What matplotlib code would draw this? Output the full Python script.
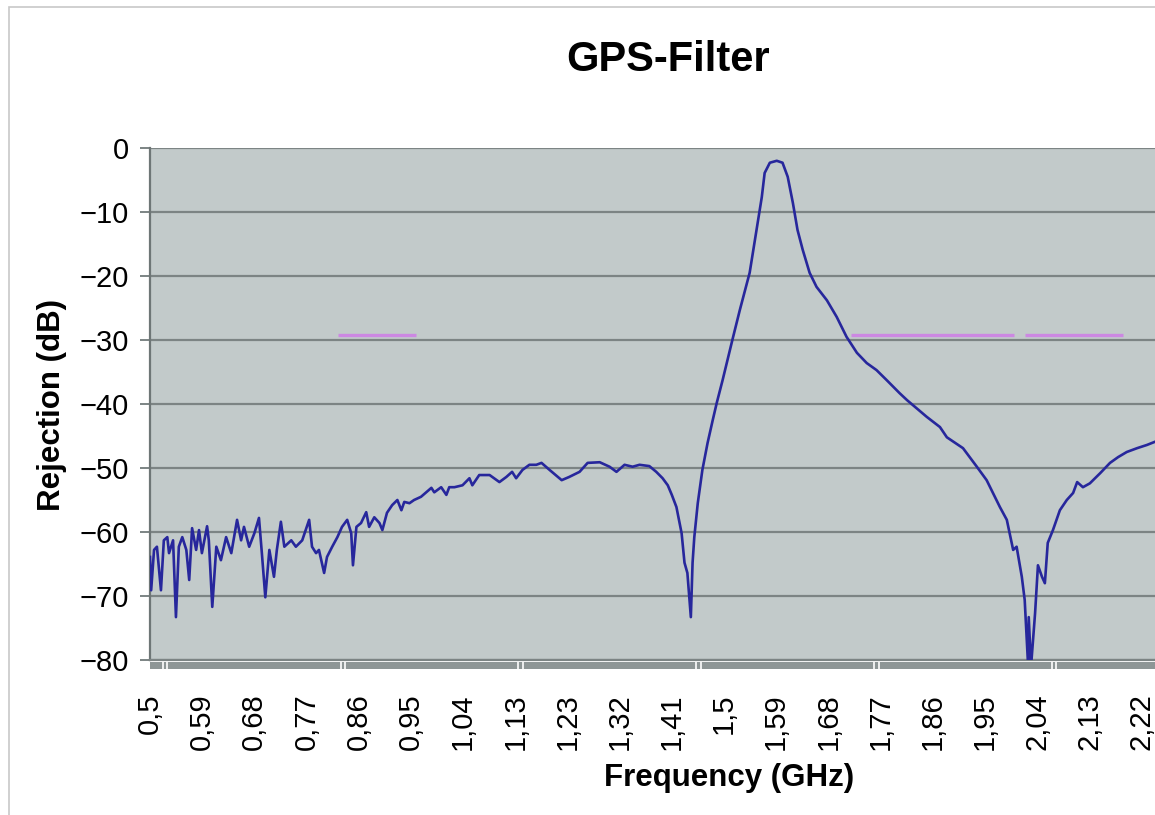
"""
GPS filter rejection sweep, redrawn in the old Excel chart look.
"""

import matplotlib

matplotlib.use("Agg")
import matplotlib.pyplot as plt
import numpy as np
from matplotlib.patches import Rectangle

FREQ_GHZ = [
    0.500, 0.502, 0.507, 0.512, 0.519, 0.524, 0.530, 0.533, 0.540, 0.545,
    0.550, 0.556, 0.563, 0.568, 0.573, 0.580, 0.585, 0.590, 0.599, 0.602,
    0.608, 0.615, 0.623, 0.632, 0.641, 0.651, 0.658, 0.663, 0.672, 0.681,
    0.689, 0.694, 0.700, 0.707, 0.715, 0.720, 0.727, 0.733, 0.745, 0.753,
    0.764, 0.776, 0.781, 0.788, 0.793, 0.802, 0.807, 0.816, 0.825, 0.833,
    0.842, 0.849, 0.852, 0.858, 0.866, 0.875, 0.880, 0.889, 0.898, 0.903,
    0.911, 0.920, 0.929, 0.936, 0.941, 0.950, 0.958, 0.970, 0.979, 0.988,
    0.993, 1.005, 1.014, 1.019, 1.028, 1.042, 1.054, 1.059, 1.071, 1.089,
    1.106, 1.118, 1.128, 1.135, 1.146, 1.158, 1.170, 1.179, 1.193, 1.214,
    1.227, 1.245, 1.259, 1.280, 1.297, 1.309, 1.323, 1.337, 1.349, 1.366,
    1.378, 1.389, 1.398, 1.405, 1.413, 1.422, 1.427, 1.432, 1.438, 1.441,
    1.444, 1.450, 1.458, 1.467, 1.476, 1.483, 1.493, 1.510, 1.523, 1.540,
    1.552, 1.561, 1.566, 1.575, 1.587, 1.597, 1.606, 1.615, 1.623, 1.632,
    1.644, 1.656, 1.674, 1.691, 1.708, 1.726, 1.743, 1.760, 1.778, 1.800,
    1.813, 1.847, 1.870, 1.882, 1.910, 1.934, 1.951, 1.962, 1.974, 1.986,
    1.991, 1.997, 2.003, 2.012, 2.017, 2.023, 2.024, 2.028, 2.035, 2.040,
    2.047, 2.052, 2.057, 2.066, 2.078, 2.090, 2.101, 2.108, 2.118, 2.130,
    2.148, 2.165, 2.179, 2.194, 2.212, 2.229, 2.243,
]
REJECTION_DB = [
    -63.9, -69.1, -62.8, -62.3, -69.1, -61.3, -60.8, -63.3, -61.3, -73.3,
    -62.3, -60.8, -62.8, -67.5, -59.4, -62.8, -59.7, -63.3, -59.1, -61.3,
    -71.7, -62.3, -64.4, -60.8, -63.3, -58.1, -61.3, -59.2, -62.3, -60.2,
    -57.8, -63.3, -70.2, -62.8, -67.0, -62.8, -58.4, -62.3, -61.3, -62.3,
    -61.3, -58.1, -62.3, -63.3, -62.8, -66.4, -63.9, -62.3, -60.8, -59.2,
    -58.1, -60.2, -65.2, -59.2, -58.6, -56.9, -59.2, -57.7, -58.6, -59.7,
    -57.0, -55.8, -55.0, -56.6, -55.3, -55.5, -55.0, -54.5, -53.8, -53.1,
    -53.8, -53.0, -54.2, -53.0, -53.0, -52.7, -51.6, -52.7, -51.1, -51.1,
    -52.2, -51.4, -50.6, -51.6, -50.3, -49.5, -49.5, -49.2, -50.3, -51.9,
    -51.4, -50.6, -49.2, -49.1, -49.8, -50.6, -49.5, -49.8, -49.5, -49.7,
    -50.6, -51.6, -52.7, -54.2, -56.1, -60.2, -64.8, -66.4, -73.3, -64.8,
    -60.8, -55.5, -50.3, -46.1, -42.5, -39.8, -36.3, -30.0, -25.3, -19.5,
    -12.8, -7.7, -3.9, -2.3, -2.0, -2.3, -4.5, -8.6, -12.8, -15.9,
    -19.5, -21.7, -23.8, -26.4, -29.5, -32.0, -33.6, -34.7, -36.3, -38.3,
    -39.4, -42.0, -43.6, -45.2, -46.9, -49.8, -51.9, -53.9, -56.1, -58.1,
    -60.2, -62.8, -62.3, -67.0, -70.6, -81.0, -73.3, -81.0, -72.7, -65.2,
    -67.0, -68.0, -61.7, -59.7, -56.6, -55.0, -53.9, -52.2, -53.0, -52.4,
    -50.8, -49.2, -48.3, -47.5, -46.9, -46.4, -45.9,
]

# rejection mask bands (start, stop) in GHz and their level
MASK_BANDS = [(0.826, 0.962), (1.715, 1.998), (2.017, 2.188)]
MASK_LEVEL_DB = -29.2

TICK_LABELS = [
    "0,5", "0,59", "0,68", "0,77", "0,86", "0,95", "1,04", "1,13", "1,23", "1,32",
    "1,41", "1,5", "1,59", "1,68", "1,77", "1,86", "1,95", "2,04", "2,13", "2,22",
]
TICK_STEP = 0.0905
BAND_MARKS_STEP = 0.3084

plt.rcParams["font.family"] = ["Liberation Sans", "DejaVu Sans"]

GRID_COLOR = "#7c8484"
PLOT_BG = "#c2caca"


def main():
    fig = plt.figure(figsize=(11.55, 8.15), dpi=100)
    ax = fig.add_axes([150 / 1155, 155 / 815, 1 - 150 / 1155, 512 / 815])
    ax.set_facecolor(PLOT_BG)

    ax.plot(FREQ_GHZ, REJECTION_DB, color="#27279c", lw=1.9, zorder=3,
            solid_joinstyle="round")
    for lo, hi in MASK_BANDS:
        ax.plot([lo, hi], [MASK_LEVEL_DB] * 2, color="#cc88e2", lw=2.4,
                solid_capstyle="butt", zorder=2)

    ax.set_xlim(0.5, 2.243)
    ax.set_ylim(-80, 0)
    ax.set_yticks(np.arange(-80, 1, 10))
    ax.yaxis.grid(True, color=GRID_COLOR, lw=1.6)
    ax.set_axisbelow(True)
    ax.tick_params(axis="y", direction="out", length=7, width=1.4,
                   color=GRID_COLOR, pad=8, labelsize=21)

    ticks = 0.5 + TICK_STEP * np.arange(len(TICK_LABELS))
    ax.set_xticks(ticks)
    ax.set_xticklabels(TICK_LABELS, rotation=90, va="top", ha="center")
    ax.tick_params(axis="x", length=0, pad=24, labelsize=21)

    for side in ("top", "right"):
        ax.spines[side].set_visible(False)
    ax.spines["left"].set_color("#6e7676")
    ax.spines["left"].set_linewidth(1.6)
    ax.spines["bottom"].set_color(GRID_COLOR)
    ax.spines["bottom"].set_linewidth(1.6)

    # gray category-tick band under the plot, with the white double marks
    ax.add_patch(Rectangle((0, -0.0176), 1, 0.0136, transform=ax.transAxes,
                           clip_on=False, fc="#8e9696", lw=0))
    marks = np.arange(0.526, 2.2, BAND_MARKS_STEP)
    for m in marks:
        ax.vlines([m - 0.004, m + 0.004], -0.0176, -0.004,
                  transform=ax.get_xaxis_transform(), colors="white",
                  lw=1.2, clip_on=False)

    fig.text(0.578, 0.926, "GPS-Filter", ha="center", va="center",
             fontsize=30, fontweight="bold")
    fig.text(0.045, 0.503, "Rejection (dB)", ha="center", va="center",
             rotation=90, fontsize=22.5, fontweight="bold")
    fig.text(0.631, 0.045, "Frequency (GHz)", ha="center", va="center",
             fontsize=22.5, fontweight="bold")

    # light chart-area frame
    fig.add_artist(Rectangle((9 / 1155, -0.02), 1.1, 1 - 7 / 815 + 0.02,
                             transform=fig.transFigure, fill=False,
                             ec="#c8c8c8", lw=1.2))

    fig.savefig("out.png", dpi=100, facecolor="white")
    plt.close(fig)


if __name__ == "__main__":
    main()
